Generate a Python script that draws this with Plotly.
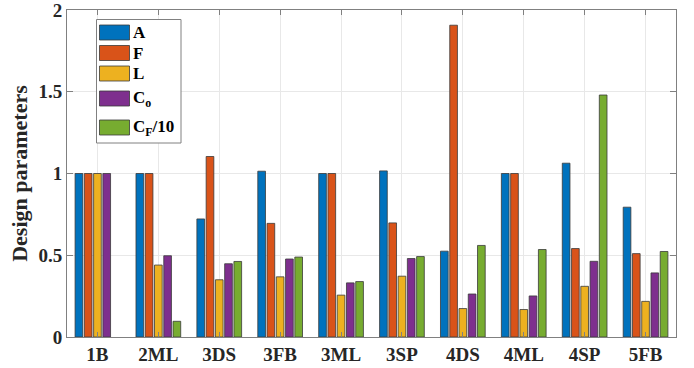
import plotly.graph_objects as go

categories = ["1B", "2ML", "3DS", "3FB", "3ML", "3SP", "4DS", "4ML", "4SP", "5FB"]
A   = [1.0, 1.0, 0.722, 1.014, 1.0, 1.016, 0.525, 1.0, 1.063, 0.794]
F   = [1.0, 1.0, 1.104, 0.695, 1.0, 0.698, 1.907, 1.0, 0.541, 0.510]
L   = [1.0, 0.44, 0.350, 0.368, 0.256, 0.372, 0.174, 0.168, 0.310, 0.218]
Co  = [1.0, 0.497, 0.448, 0.477, 0.331, 0.480, 0.263, 0.251, 0.463, 0.392]
CF10 = [None, 0.096, 0.462, 0.489, 0.339, 0.492, 0.560, 0.535, 1.480, 0.523]
y_ticks = [0, 0.5, 1, 1.5, 2]
y_ticktext = ["0", "0.5", "1", "1.5", "2"]

series = [
    ("A", A, "#0072BD"),
    ("F", F, "#D95319"),
    ("L", L, "#EDB120"),
    ("C<sub>o</sub>", Co, "#7E2F8E"),
    ("C<sub>F</sub>/10", CF10, "#77AC30"),
]

x = list(range(1, len(categories) + 1))

W, H = 694, 368
ML, MR, MT, MB = 67, 18, 10, 31
PW, PH = W - ML - MR, H - MT - MB

def px_x(p):
    return (p - ML) / PW

def px_y(p):
    return (H - MB - p) / PH

fig = go.Figure()
for name, vals, col in series:
    fig.add_trace(go.Bar(
        x=x, y=vals, name=name, showlegend=False,
        marker=dict(color=col, line=dict(color="#3a3a3a", width=0.8)),
    ))

font_family = "Liberation Serif, Times New Roman, serif"
axis_col = "#808080"

# custom legend (MATLAB style, wide swatches)
shapes = [dict(type="rect", xref="paper", yref="paper",
               x0=px_x(96.5), x1=px_x(181), y0=px_y(143), y1=px_y(19.5),
               fillcolor="white", line=dict(color=axis_col, width=1), layer="above")]
annotations = []
item_tops = [25, 45.5, 66, 91, 120]
for (name, vals, col), top in zip(series, item_tops):
    shapes.append(dict(type="rect", xref="paper", yref="paper",
                       x0=px_x(99.5), x1=px_x(129.5), y0=px_y(top + 15), y1=px_y(top),
                       fillcolor=col, line=dict(color="#3a3a3a", width=0.8), layer="above"))
    annotations.append(dict(xref="paper", yref="paper", x=px_x(131), y=px_y(top + 7.5),
                            xanchor="left", yanchor="middle", text=name, showarrow=False,
                            font=dict(family=font_family, size=17, color="black", weight="bold")))

fig.update_layout(
    width=W, height=H,
    margin=dict(l=ML, r=MR, t=MT, b=MB, autoexpand=False),
    paper_bgcolor="white", plot_bgcolor="white",
    barmode="group", bargap=0.24, bargroupgap=0.17,
    font=dict(family=font_family, size=19, color="#262626", weight="bold"),
    showlegend=False,
    shapes=shapes, annotations=annotations,
)

fig.update_xaxes(
    range=[0.5, len(categories) + 0.5],
    tickmode="array", tickvals=x, ticktext=categories,
    showgrid=True, gridcolor="#e8e8e8", gridwidth=1,
    ticks="inside", ticklen=5, tickcolor=axis_col,
    showline=True, linecolor=axis_col, linewidth=1, mirror="ticks",
    layer="above traces", zeroline=False, automargin=False,
    ticklabeloverflow="allow",
    tickfont=dict(family=font_family, size=19, color="#262626", weight="bold"),
)
fig.update_yaxes(
    range=[0, 2], tickvals=y_ticks, ticktext=y_ticktext,
    showgrid=True, gridcolor="#e8e8e8", gridwidth=1,
    ticks="inside", ticklen=6, tickcolor=axis_col,
    showline=True, linecolor=axis_col, linewidth=1, mirror="ticks",
    layer="above traces", zeroline=False, automargin=False,
    ticklabeloverflow="allow",
    title=dict(text="Design parameters", standoff=4,
               font=dict(family=font_family, size=22, color="#262626", weight="bold")),
    tickfont=dict(family=font_family, size=19, color="#262626", weight="bold"),
)

fig.write_html("out.html", config={"displayModeBar": False},
               post_script="document.body.style.margin='0';")
